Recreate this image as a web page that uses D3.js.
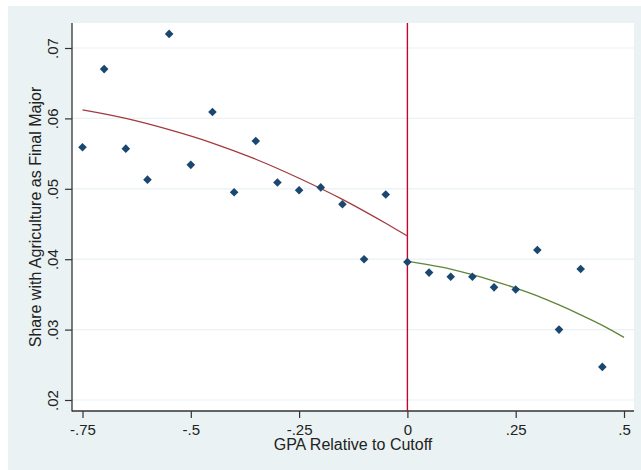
<!DOCTYPE html>
<html>
<head>
<meta charset="utf-8">
<script src="https://cdn.jsdelivr.net/npm/d3@7"></script>
<style>
  html, body { margin: 0; padding: 0; background: #ffffff; }
  svg { display: block; font-family: "Liberation Sans", Arial, sans-serif; }
</style>
</head>
<body>
<svg id="chart" width="641" height="470"></svg>
<script>
// ---- data ----
const binX = [-0.75, -0.70, -0.65, -0.60, -0.55, -0.50, -0.45, -0.40, -0.35, -0.30, -0.25, -0.20, -0.15, -0.10, -0.05,
              0.00, 0.05, 0.10, 0.15, 0.20, 0.25, 0.30, 0.35, 0.40, 0.45];
const shareAg = [0.0559, 0.0670, 0.0557, 0.0513, 0.0720, 0.0534, 0.0609, 0.0495, 0.0568, 0.0509, 0.0498, 0.0502, 0.0478, 0.0400, 0.0492,
                 0.0396, 0.0381, 0.0375, 0.0375, 0.0360, 0.0357, 0.0413, 0.0300, 0.0386, 0.0247];

const fitLeftX = [-0.75, -0.65, -0.55, -0.45, -0.35, -0.25, -0.15, -0.05, 0.0];
const fitLeftY = [0.0612, 0.0600, 0.0584, 0.0565, 0.0542, 0.0515, 0.0485, 0.0451, 0.0433];
const fitRightX = [0.0, 0.05, 0.10, 0.15, 0.20, 0.25, 0.30, 0.35, 0.40, 0.45, 0.50];
const fitRightY = [0.0397, 0.0392, 0.0386, 0.0378, 0.0369, 0.0359, 0.0348, 0.0335, 0.0321, 0.0306, 0.0289];

const xTicks = [-0.75, -0.5, -0.25, 0, 0.25, 0.5];
const xTickLabels = ["-.75", "-.5", "-.25", "0", ".25", ".5"];
const yTicks = [0.02, 0.03, 0.04, 0.05, 0.06, 0.07];
const yTickLabels = [".02", ".03", ".04", ".05", ".06", ".07"];
const cutoff = 0;

const xTitle = "GPA Relative to Cutoff";
const yTitle = "Share with Agriculture as Final Major";

// ---- layout ----
const svg = d3.select("#chart");
const W = 641, H = 470;
const plot = { left: 72, right: 634, top: 23, bottom: 411 };

svg.append("rect").attr("x", 8).attr("y", 6).attr("width", W - 8).attr("height", H - 6).attr("fill", "#eaf2f3");
svg.append("rect").attr("x", plot.left).attr("y", plot.top)
   .attr("width", plot.right - plot.left).attr("height", plot.bottom - plot.top).attr("fill", "#ffffff");

const x = d3.scaleLinear().domain([-0.75, 0.5]).range([82.5, 624]);
const y = d3.scaleLinear().domain([0.02, 0.07]).range([400, 48]);

// gridlines
svg.append("g").selectAll("line").data(yTicks).join("line")
  .attr("x1", plot.left).attr("x2", plot.right)
  .attr("y1", d => y(d)).attr("y2", d => y(d))
  .attr("stroke", "#eaf2f3").attr("stroke-width", 1.2);

// Y axis
const yAxis = d3.axisLeft(y).tickValues(yTicks).tickSize(7).tickSizeOuter(0)
  .tickFormat((d, i) => yTickLabels[i]);
const gy = svg.append("g").attr("transform", `translate(${plot.left},0)`).call(yAxis);
gy.select(".domain").remove();
gy.selectAll(".tick line").attr("stroke", "#333").attr("stroke-width", 1.2);
gy.selectAll(".tick text")
  .attr("transform", "rotate(-90)").attr("x", 0).attr("y", -14).attr("dy", null)
  .style("text-anchor", "middle").style("font-size", "15px").attr("fill", "#222");

// X axis
const xAxis = d3.axisBottom(x).tickValues(xTicks).tickSize(7).tickSizeOuter(0)
  .tickFormat((d, i) => xTickLabels[i]);
const gx = svg.append("g").attr("transform", `translate(0,${plot.bottom})`).call(xAxis);
gx.select(".domain").remove();
gx.selectAll(".tick line").attr("stroke", "#333").attr("stroke-width", 1.2);
gx.selectAll(".tick text").attr("y", 13).style("font-size", "15px").attr("fill", "#222");

// axis lines
svg.append("line").attr("x1", plot.left).attr("x2", plot.left).attr("y1", plot.top).attr("y2", plot.bottom + 0.5)
  .attr("stroke", "#333").attr("stroke-width", 1.3);
svg.append("line").attr("x1", plot.left).attr("x2", plot.right).attr("y1", plot.bottom).attr("y2", plot.bottom)
  .attr("stroke", "#333").attr("stroke-width", 1.3);

// cutoff line
svg.append("line").attr("x1", x(cutoff)).attr("x2", x(cutoff)).attr("y1", plot.top).attr("y2", plot.bottom)
  .attr("stroke", "#c10534").attr("stroke-width", 1.4);

// fit lines
const line = d3.line().x(d => x(d[0])).y(d => y(d[1])).curve(d3.curveMonotoneX);
svg.append("path").datum(fitLeftX.map((v, i) => [v, fitLeftY[i]]))
  .attr("d", line).attr("fill", "none").attr("stroke", "#a33a3f").attr("stroke-width", 1.3);
svg.append("path").datum(fitRightX.map((v, i) => [v, fitRightY[i]]))
  .attr("d", line).attr("fill", "none").attr("stroke", "#5f8538").attr("stroke-width", 1.3);

// points
const r = 4.3;
svg.append("g").selectAll("path").data(binX.map((v, i) => [v, shareAg[i]])).join("path")
  .attr("transform", d => `translate(${x(d[0])},${y(d[1])})`)
  .attr("d", `M0,${-r}L${r},0L0,${r}L${-r},0Z`)
  .attr("fill", "#1a476f");

// titles
svg.append("text").attr("x", (plot.left + plot.right) / 2).attr("y", 450)
  .attr("text-anchor", "middle").style("font-size", "16px").attr("fill", "#222").text(xTitle);
svg.append("text").attr("transform", `translate(41,${(plot.top + plot.bottom) / 2}) rotate(-90)`)
  .attr("text-anchor", "middle").style("font-size", "16px").attr("fill", "#222").text(yTitle);
</script>
</body>
</html>
